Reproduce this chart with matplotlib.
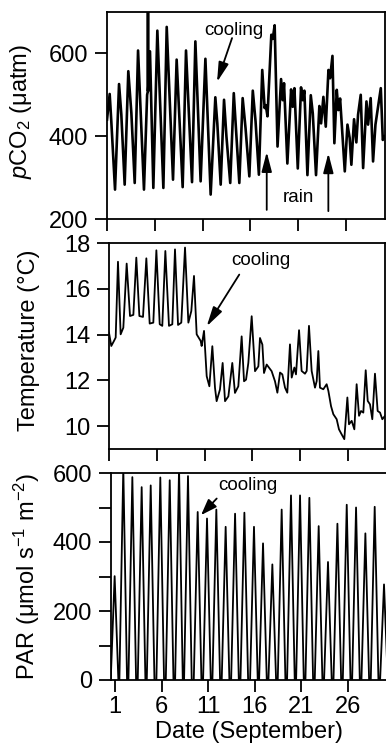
import matplotlib
matplotlib.use('Agg')
import matplotlib.pyplot as plt

plt.rcParams['font.family'] = ['Liberation Sans', 'DejaVu Sans']
plt.rcParams['mathtext.fontset'] = 'custom'
plt.rcParams['mathtext.rm'] = 'Liberation Sans'
plt.rcParams['mathtext.it'] = 'Liberation Sans:italic'

# pCO2 (uatm), day of September
pco2_day = [1.0, 1.28, 1.45, 1.84, 2.26, 2.5, 2.85, 3.23, 3.55, 3.9, 4.25, 4.87,
            5.2, 5.28, 5.29, 5.30, 5.5, 5.85, 6.27, 6.9, 7.25, 7.91, 8.29, 8.92,
            9.27, 9.9, 10.25, 10.8, 11.3, 11.85, 12.34, 12.55, 12.9, 13.25, 13.5,
            13.9, 14.27, 14.85, 15.2, 15.5, 15.9, 16.26, 16.55, 16.9, 17.25, 17.5,
            17.62, 17.8, 18.2, 18.35, 18.55, 18.85, 19.22, 19.4, 19.53, 19.88,
            20.27, 20.44, 20.62, 20.97, 21.31, 21.49, 21.66, 21.98, 22.33, 22.54,
            22.88, 23.23, 23.41, 23.65, 23.9, 24.18, 24.35, 24.6, 24.8, 25.05,
            25.22, 25.4, 25.89, 26.17, 26.4, 26.58, 26.86, 27.1, 27.28, 27.56,
            27.81, 28.16, 28.33, 28.6, 28.85, 29.1, 29.38, 29.66, 29.87, 30.1]
pco2 = [440, 502, 436, 271, 526, 452, 283, 557, 456, 287, 607, 271,
        500, 509, 760, 509, 605, 275, 655, 275, 664, 295, 585, 277,
        607, 289, 629, 291, 587, 259, 494, 430, 283, 488, 400,
        287, 504, 287, 492, 420, 303, 510, 436, 307, 560, 468,
        475, 448, 645, 635, 668, 375, 538, 487, 528, 334,
        513, 471, 516, 322, 518, 487, 510, 306, 499, 455,
        306, 473, 431, 495, 423, 560, 540, 594, 383, 512,
        463, 491, 315, 428, 396, 331, 441, 385, 452, 500,
        323, 484, 428, 492, 339, 428, 472, 516, 391, 400]

# water temperature (deg C)
temp_day = [1.0, 1.24, 1.52, 1.7, 1.94, 2.22, 2.5, 2.85, 3.2, 3.55, 3.86, 4.18,
            4.56, 4.91, 5.26, 5.64, 5.96, 6.31, 6.58, 6.9, 7.28, 7.63, 7.91, 8.23,
            8.57, 8.96, 9.31, 9.62, 9.9, 10.18, 10.6, 10.7, 10.95, 11.23, 11.51,
            11.82, 12.1, 12.27, 12.62, 12.9, 13.15, 13.5, 13.91, 14.19, 14.54,
            14.89, 15.14, 15.35, 15.59, 15.94, 16.29, 16.64, 16.81, 17.06, 17.23,
            17.51, 18.03, 18.38, 18.63, 18.91, 19.15, 19.43, 19.67, 19.95, 20.13,
            20.41, 20.58, 20.9, 21.17, 21.52, 21.7, 21.94, 22.22, 22.57, 22.75,
            22.92, 23.09, 23.44, 23.79, 23.97, 24.25, 24.49, 24.84, 25.08, 25.36,
            25.64, 25.96, 26.13, 26.41, 26.69, 26.93, 27.18, 27.39, 27.63, 27.88,
            28.09, 28.33, 28.57, 28.85, 29.13, 29.38, 29.62, 29.9]
temp = [14.08, 13.5, 13.72, 13.87, 17.18, 14.01, 14.3, 17.1, 14.81, 14.86, 17.36, 14.81,
        14.77, 17.33, 14.48, 14.52, 17.68, 14.45, 14.38, 17.65, 14.38, 14.45, 17.72, 14.42,
        14.52, 17.8, 14.52, 15.03, 16.56, 14.01, 13.72, 13.5, 14.16, 12.18, 11.74,
        13.49, 11.67, 11.09, 11.6, 12.76, 11.09, 11.3, 12.76, 11.45, 11.74,
        13.92, 11.96, 12.03, 12.76, 14.8, 12.4, 12.61, 13.85, 13.56, 12.32,
        12.69, 12.4, 11.96, 11.46, 12.34, 12.26, 11.68, 11.46, 13.57, 12.12,
        12.56, 12.26, 14.19, 12.41, 12.29, 12.41, 14.38, 12.41, 11.68, 11.97,
        13.28, 11.68, 11.61, 11.83, 11.54, 10.87, 10.52, 10.3, 9.86, 9.64,
        9.43, 11.25, 10.08, 10.23, 9.86, 11.83, 10.45, 10.66, 10.59, 12.44,
        11.1, 10.95, 10.3, 12.29, 10.66, 10.59, 10.3, 10.45]

# PAR: daily maxima plus the dark (zero) points either side
par_peak_day = [0.96, 1.89, 2.86, 3.86, 4.83, 5.86, 6.87, 7.87, 8.83, 9.87,
                10.87, 11.87, 12.87, 13.88, 14.88, 15.91, 16.88, 17.88, 18.88, 19.88,
                20.85, 21.85, 22.85, 23.85, 24.86, 25.86, 26.86, 27.86, 28.86, 29.86]
par_peak = [301, 615, 588, 559, 564, 587, 579, 615, 591, 487,
            468, 494, 444, 482, 485, 444, 396, 335, 494, 535,
            535, 528, 446, 342, 453, 508, 500, 425, 502, 277]
dark_day = [0.54, 1.36, 1.47, 2.29, 2.44, 3.26, 3.44, 4.26, 4.41, 5.23,
            5.44, 6.26, 6.45, 7.27, 7.45, 8.27, 8.41, 9.23, 9.45, 10.27,
            10.45, 11.27, 11.45, 12.27, 12.45, 13.27, 13.46, 14.28, 14.46, 15.28,
            15.49, 16.31, 16.46, 17.28, 17.46, 18.28, 18.46, 19.28, 19.46, 20.28,
            20.43, 21.25, 21.43, 22.25, 22.43, 23.25, 23.43, 24.25, 24.44, 25.26,
            25.44, 26.26, 26.44, 27.26, 27.44, 28.26, 28.44, 29.26, 29.44, 30.26]

date_ticks = [1, 6, 11, 16, 21, 26]

W, H = 386, 747
TICK_FS = 17
LABEL_FS = 17
NOTE_FS = 13.5


def box(left, top, right, bottom):
    # pixel edges -> figure fraction
    return [left / W, 1 - bottom / H, (right - left) / W, (bottom - top) / H]


def style(ax, labels=False):
    for s in ax.spines.values():
        s.set_linewidth(1.3)
    ax.set_xticks(date_ticks)
    ax.tick_params(direction='out', length=8.5, width=1.3, labelsize=TICK_FS, pad=3,
                   top=False, right=False, labelbottom=labels)
    ax.tick_params(axis='y', pad=5)


arrow = dict(arrowstyle='-|>,head_length=0.85,head_width=0.22', color='k',
             lw=1.3, shrinkA=0, shrinkB=0, mutation_scale=14)

fig = plt.figure(figsize=(3.86, 7.47), dpi=100)

# --- pCO2
ax1 = fig.add_axes(box(107, 12, 385, 219))
ax1.plot(pco2_day, pco2, color='k', lw=1.9)
ax1.set_xlim(1, 30.1)
ax1.set_ylim(200, 700)
ax1.set_yticks([200, 400, 600])
style(ax1)
ax1.set_ylabel(r'$\mathit{p}$CO$_2$ ($\mathrm{\mu}$atm)', fontsize=LABEL_FS)
ax1.yaxis.set_label_coords(-0.263, 0.52)
ax1.text(14.3, 656, 'cooling', fontsize=NOTE_FS, ha='center', va='center')
ax1.annotate('', xy=(12.52, 531), xytext=(14.09, 637), arrowprops=arrow)
ax1.annotate('', xy=(17.72, 362), xytext=(17.72, 222), arrowprops=arrow)
ax1.annotate('', xy=(24.17, 359), xytext=(24.17, 219), arrowprops=arrow)
ax1.text(21.03, 252, 'rain', fontsize=NOTE_FS, ha='center', va='center')

# --- temperature
ax2 = fig.add_axes(box(109, 243, 385, 449))
ax2.plot(temp_day, temp, color='k', lw=1.3)
ax2.set_xlim(1, 29.9)
ax2.set_ylim(9, 18)
ax2.set_yticks([10, 12, 14, 16, 18])
style(ax2)
ax2.set_ylabel('Temperature (°C)', fontsize=LABEL_FS)
ax2.yaxis.set_label_coords(-0.249, 0.53)
ax2.text(16.86, 17.23, 'cooling', fontsize=NOTE_FS, ha='center', va='center')
ax2.annotate('', xy=(11.23, 14.36), xytext=(14.64, 16.62), arrowprops=arrow)

# --- PAR
par_day = sorted(par_peak_day + dark_day)
lookup = dict(zip(par_peak_day, par_peak))
par = [lookup.get(d, 0) for d in par_day]

ax3 = fig.add_axes(box(111, 473, 387, 680))
ax3.plot(par_day, par, color='k', lw=1.3)
ax3.set_xlim(0.57, 30.18)
ax3.set_ylim(0, 600)
ax3.set_yticks([0, 200, 400, 600])
ax3.set_yticks([100, 300, 500], minor=True)
style(ax3, labels=True)
ax3.tick_params(axis='y', which='minor', direction='out', length=8.5, width=1.3)
ax3.spines['right'].set_visible(False)
ax3.set_ylabel(r'PAR ($\mathrm{\mu}$mol s$^{-1}$ m$^{-2}$)', fontsize=LABEL_FS)
ax3.yaxis.set_label_coords(-0.251, 0.5)
ax3.set_xlabel('Date (September)', fontsize=LABEL_FS, labelpad=2)
ax3.text(15.22, 564, 'cooling', fontsize=NOTE_FS, ha='center', va='center')
ax3.annotate('', xy=(10.23, 478), xytext=(11.91, 526),
             arrowprops=dict(arrow, arrowstyle='-|>,head_length=0.7,head_width=0.25'))

fig.savefig('out.png', dpi=100)
